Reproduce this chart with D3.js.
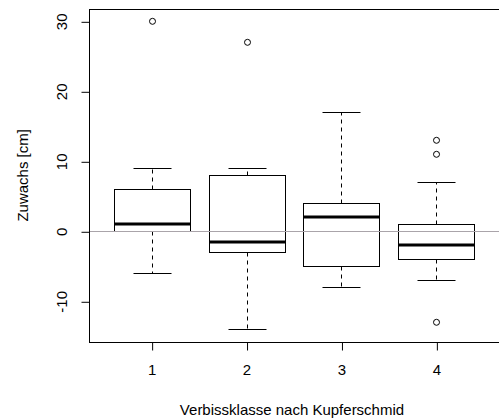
<!DOCTYPE html>
<html>
<head>
<meta charset="utf-8">
<script src="https://cdn.jsdelivr.net/npm/d3@7"></script>
<style>
  body { margin: 0; background: #fff; }
  text { font-family: "Liberation Sans", Arial, sans-serif; fill: #000; }
</style>
</head>
<body>
<div id="chart"></div>
<script>
// Box statistics
const groups = [1, 2, 3, 4];
const whiskerLow = [-6, -14, -8, -7];
const q1 = [0, -3, -5, -4];
const median = [1, -1.5, 2, -2];
const q3 = [6, 8, 4, 1];
const whiskerHigh = [9, 9, 17, 7];
const outliers = [[30], [27], [], [13, 11, -13]];
const yTicks = [-10, 0, 10, 20, 30];

const width = 499, height = 419;
const plot = { left: 89, right: 499, top: 9, bottom: 341.6 };

const svg = d3.select("#chart")
    .append("svg")
    .attr("width", width)
    .attr("height", height);

// Scales (R style: 4% padding around range)
const xScale = d3.scaleLinear()
    .domain([0.34, 4.66])
    .range([plot.left, plot.right]);

const yScale = d3.scaleLinear()
    .domain([-15.76, 31.76])
    .range([plot.bottom, plot.top]);

const px = v => Math.round(v) + 0.5;
const unit = xScale(2) - xScale(1);

const data = groups.map((g, i) => ({
    g: g, lo: whiskerLow[i], q1: q1[i], med: median[i],
    q3: q3[i], hi: whiskerHigh[i], out: outliers[i]
}));

const boxes = svg.append("g");

data.forEach(function(d) {
    const cx = px(xScale(d.g));
    const g = boxes.append("g");

    // whiskers (dashed)
    g.append("line")
        .attr("x1", cx).attr("x2", cx)
        .attr("y1", px(yScale(d.q3))).attr("y2", px(yScale(d.hi)))
        .attr("stroke", "#000").attr("stroke-dasharray", "4,4");
    g.append("line")
        .attr("x1", cx).attr("x2", cx)
        .attr("y1", px(yScale(d.q1))).attr("y2", px(yScale(d.lo)))
        .attr("stroke", "#000").attr("stroke-dasharray", "4,4");

    // staples
    [d.lo, d.hi].forEach(function(v) {
        g.append("line")
            .attr("x1", px(xScale(d.g - 0.2))).attr("x2", px(xScale(d.g + 0.2)))
            .attr("y1", px(yScale(v))).attr("y2", px(yScale(v)))
            .attr("stroke", "#000");
    });

    // box
    g.append("rect")
        .attr("x", px(xScale(d.g - 0.4)))
        .attr("y", px(yScale(d.q3)))
        .attr("width", Math.round(unit * 0.8))
        .attr("height", Math.round(yScale(d.q1) - yScale(d.q3)))
        .attr("fill", "#fff")
        .attr("stroke", "#000");

    // median
    g.append("line")
        .attr("x1", px(xScale(d.g - 0.4))).attr("x2", px(xScale(d.g + 0.4)))
        .attr("y1", Math.round(yScale(d.med))).attr("y2", Math.round(yScale(d.med)))
        .attr("stroke", "#000").attr("stroke-width", 3);

    // outliers
    g.selectAll("circle")
        .data(d.out)
        .enter()
        .append("circle")
        .attr("cx", cx)
        .attr("cy", v => yScale(v))
        .attr("r", 3)
        .attr("fill", "none")
        .attr("stroke", "#000");
});

// reference line at 0
svg.append("line")
    .attr("x1", plot.left).attr("x2", plot.right)
    .attr("y1", px(yScale(0))).attr("y2", px(yScale(0)))
    .attr("stroke", "#aaa4aa");

// frame
svg.append("rect")
    .attr("x", px(plot.left))
    .attr("y", px(plot.top))
    .attr("width", plot.right - plot.left)
    .attr("height", Math.round(plot.bottom - plot.top))
    .attr("fill", "none")
    .attr("stroke", "#000");

// x axis
const xAxis = svg.append("g")
    .attr("transform", `translate(0,${px(plot.bottom)})`)
    .call(d3.axisBottom(xScale).tickValues(groups).tickFormat(d => String(d))
        .tickSize(8).tickPadding(14));
xAxis.select(".domain").remove();
xAxis.selectAll(".tick line").attr("transform", "translate(0.5,0)");
xAxis.selectAll("text")
    .style("font-size", "15px")
    .style("font-family", "Liberation Sans, Arial, sans-serif");

// y axis with rotated labels (plain hyphen for negatives, as in R)
const yAxis = svg.append("g")
    .attr("transform", `translate(${px(plot.left)},0)`)
    .call(d3.axisLeft(yScale).tickValues(yTicks).tickSize(8).tickFormat(d => String(d)));
yAxis.select(".domain").remove();
yAxis.selectAll(".tick line").attr("transform", "translate(0,0.5)");
yAxis.selectAll(".tick text")
    .attr("x", null).attr("dy", null)
    .attr("transform", "translate(-23,0) rotate(-90)")
    .style("text-anchor", "middle")
    .style("font-size", "15px")
    .style("font-family", "Liberation Sans, Arial, sans-serif");

// axis titles
svg.append("text")
    .attr("x", 292)
    .attr("y", 415)
    .style("text-anchor", "middle")
    .style("font-size", "15px")
    .text("Verbissklasse nach Kupferschmid");

svg.append("text")
    .attr("transform", `translate(28,${(plot.top + plot.bottom) / 2}) rotate(-90)`)
    .style("text-anchor", "middle")
    .style("font-size", "15px")
    .text("Zuwachs [cm]");
</script>
</body>
</html>
